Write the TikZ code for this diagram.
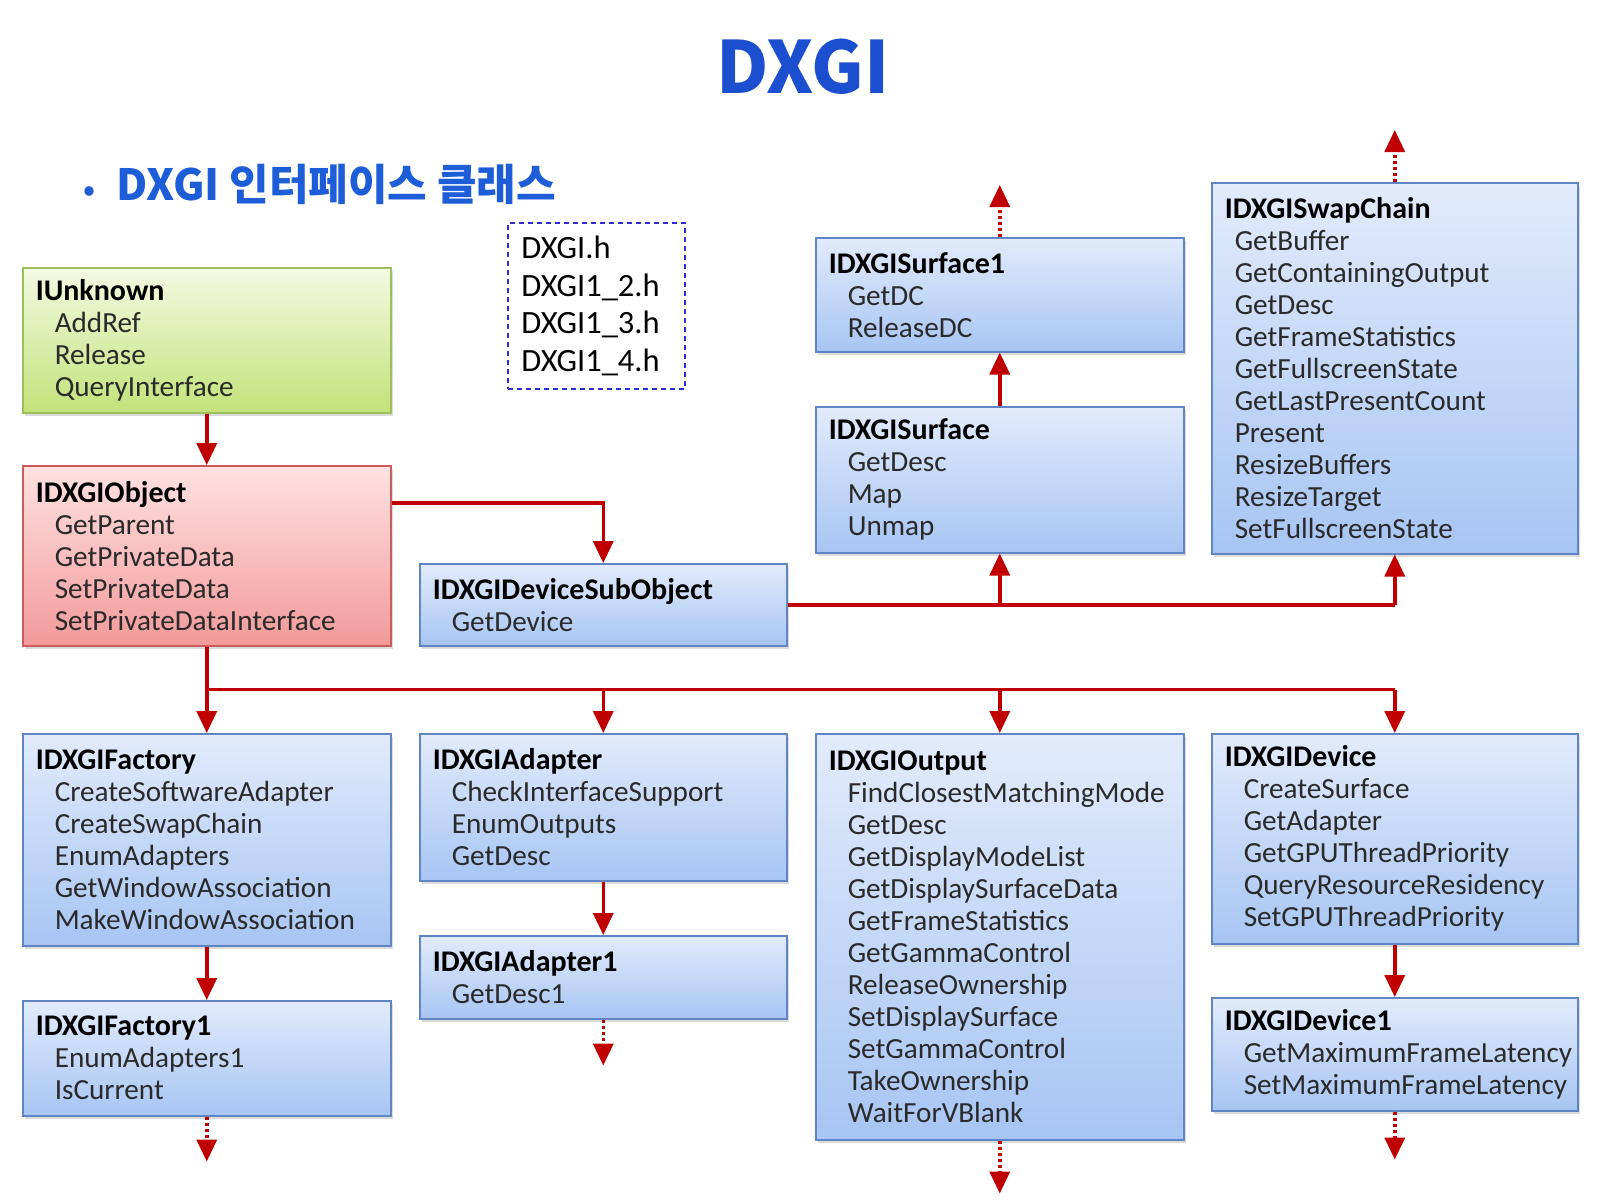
\documentclass[tikz,border=0pt]{standalone}
\usepackage{fontspec}
\setmainfont{Carlito}
\newfontfamily\krfont{Noto Sans CJK KR}
\usetikzlibrary{arrows.meta,shadows}
\definecolor{arrred}{HTML}{C00000}
\definecolor{bluetop}{HTML}{E2EBFB}
\definecolor{bluebot}{HTML}{A7C5F3}
\definecolor{bluedraw}{HTML}{5F85C2}
\definecolor{greentop}{HTML}{F3FAE2}
\definecolor{greenbot}{HTML}{C3E27A}
\definecolor{greendraw}{HTML}{9DBE5C}
\definecolor{redtop}{HTML}{FFE2E2}
\definecolor{redbot}{HTML}{F29A9A}
\definecolor{reddraw}{HTML}{CC5C5C}
\definecolor{titleblue}{HTML}{1C4ED0}
\definecolor{subblue}{HTML}{1E5DD8}
\definecolor{dashblue}{HTML}{2E2ECF}
\definecolor{bodytext}{HTML}{2A2A2A}
\newcommand\mth[1]{\hspace*{19pt}#1}
\newcommand\smth[1]{\hspace*{10pt}#1}
\tikzset{
  box/.style={rectangle, anchor=north west, align=left, line width=1.5pt,
    inner xsep=13pt, inner ysep=0pt, text=bodytext,
    font=\fontsize{29.2}{32}\selectfont,
    execute at begin node={\hyphenpenalty=10000\exhyphenpenalty=10000},
    drop shadow={shadow xshift=2pt, shadow yshift=-3pt, opacity=0.28}},
  bluebox/.style={box, draw=bluedraw, top color=bluetop, bottom color=bluebot},
  greenbox/.style={box, draw=greendraw, top color=greentop, bottom color=greenbot},
  redbox/.style={box, draw=reddraw, top color=redtop, bottom color=redbot},
  sz/.style n args={2}{minimum width=#1pt, minimum height=#2pt},
  conn/.style={draw=arrred, line width=3.5pt},
  arr/.style={conn, -{Triangle[width=20pt,length=22pt]}},
  darr/.style={arr, dash pattern=on 3pt off 3pt},
}
\newcommand\ttl[1]{{\fontsize{30}{32}\selectfont\bfseries\color{black}#1}}
\begin{document}
\begin{tikzpicture}[x=1pt,y=-1pt]
\path[use as bounding box, fill=white] (0,0) rectangle (1600,1200);

% title
\node[font=\krfont\fontsize{72}{80}\bfseries, text=titleblue] (title) at (803,67) {DXGI};
\node[font=\krfont\fontsize{43}{46}\bfseries, text=subblue, anchor=base west] (sub) at (80,200)
  {{\fontsize{30}{30}\selectfont •}\hspace{21pt}DXGI 인터페이스 클래스};

% header files
\node[draw=dashblue, line width=1.5pt, dash pattern=on 5pt off 4pt, fill=white,
  anchor=north west, minimum width=177pt, minimum height=166pt, text width=150pt,
  inner xsep=13pt, align=left, font=\fontsize{32.5}{37.7}\selectfont, text=black] (hdr) at (507,222)
  {DXGI.h\\DXGI1\_2.h\\DXGI1\_3.h\\DXGI1\_4.h};

% boxes
\node[greenbox, sz={368}{145}, text width=342pt] (unk) at (22,267)
  {\ttl{IUnknown}\\\mth{AddRef}\\\mth{Release}\\\mth{QueryInterface}};
\node[redbox, sz={368}{180}, text width=342pt] (obj) at (22,465)
  {\ttl{IDXGIObject}\\\mth{GetParent}\\\mth{GetPrivateData}\\\mth{SetPrivateData}\\\mth{SetPrivateDataInterface}};
\node[bluebox, sz={367}{82}, text width=341pt] (dso) at (419,563)
  {\ttl{IDXGIDeviceSubObject}\\\mth{GetDevice}};
\node[bluebox, sz={368}{114}, text width=342pt] (surf1) at (815,237)
  {\ttl{IDXGISurface1}\\\mth{GetDC}\\\mth{ReleaseDC}};
\node[bluebox, sz={368}{146}, text width=342pt] (surf) at (815,406)
  {\ttl{IDXGISurface}\\\mth{GetDesc}\\\mth{Map}\\\mth{Unmap}};
\node[bluebox, sz={366}{371}, text width=340pt] (swap) at (1211,182)
  {\ttl{IDXGISwapChain}\\\smth{GetBuffer}\\\smth{GetContainingOutput}\\\smth{GetDesc}\\\smth{GetFrameStatistics}\\\smth{GetFullscreenState}\\\smth{GetLastPresentCount}\\\smth{Present}\\\smth{ResizeBuffers}\\\smth{ResizeTarget}\\\smth{SetFullscreenState}};
\node[bluebox, sz={368}{212}, text width=342pt] (fac) at (22,733)
  {\ttl{IDXGIFactory}\\\mth{CreateSoftwareAdapter}\\\mth{CreateSwapChain}\\\mth{EnumAdapters}\\\mth{GetWindowAssociation}\\\mth{MakeWindowAssociation}};
\node[bluebox, sz={368}{115}, text width=342pt] (fac1) at (22,1000)
  {\ttl{IDXGIFactory1}\\\mth{EnumAdapters1}\\\mth{IsCurrent}};
\node[bluebox, sz={367}{147}, text width=341pt] (ada) at (419,733)
  {\ttl{IDXGIAdapter}\\\mth{CheckInterfaceSupport}\\\mth{EnumOutputs}\\\mth{GetDesc}};
\node[bluebox, sz={367}{83}, text width=341pt] (ada1) at (419,935)
  {\ttl{IDXGIAdapter1}\\\mth{GetDesc1}};
\node[bluebox, sz={368}{406}, text width=342pt] (out) at (815,733)
  {\ttl{IDXGIOutput}\\\mth{FindClosestMatchingMode}\\\mth{GetDesc}\\\mth{GetDisplayModeList}\\\mth{GetDisplaySurfaceData}\\\mth{GetFrameStatistics}\\\mth{GetGammaControl}\\\mth{ReleaseOwnership}\\\mth{SetDisplaySurface}\\\mth{SetGammaControl}\\\mth{TakeOwnership}\\\mth{WaitForVBlank}};
\node[bluebox, sz={366}{210}, text width=340pt] (dev) at (1211,733)
  {\ttl{IDXGIDevice}\\\mth{CreateSurface}\\\mth{GetAdapter}\\\mth{GetGPUThreadPriority}\\\mth{QueryResourceResidency}\\\mth{SetGPUThreadPriority}};
\node[bluebox, sz={366}{113}, text width=340pt] (dev1) at (1211,997)
  {\ttl{IDXGIDevice1}\\\mth{GetMaximumFrameLatency}\\\mth{SetMaximumFrameLatency}};

% connectors
\draw[arr] (unk) -- (obj);
\path (obj.north east) ++(0,38) coordinate (objr);
\draw[arr] (objr) -| (dso.north);

\path (obj.south) ++(0,43) coordinate (bus);
\draw[conn] (obj.south) -- (bus) -- (bus -| dev.north);
\draw[arr] (bus) -- (fac.north);
\draw[arr] (bus -| ada.north) -- (ada.north);
\draw[arr] (bus -| out.north) -- (out.north);
\draw[arr] (bus -| dev.north) -- (dev.north);

\draw[conn] (dso.east) -- (dso.east -| swap.south);
\draw[arr] (dso.east -| surf.south) -- (surf.south);
\draw[arr] (dso.east -| swap.south) -- (swap.south);
\draw[arr] (surf) -- (surf1);

\draw[arr] (fac) -- (fac1);
\draw[arr] (ada) -- (ada1);
\draw[arr] (dev) -- (dev1);

% dotted continuation arrows
\path (surf1.north) ++(0,-52) coordinate (s1up);
\path (swap.north) ++(0,-52) coordinate (swup);
\path (fac1.south) ++(0,45) coordinate (f1dn);
\path (ada1.south) ++(0,46) coordinate (a1dn);
\path (out.south) ++(0,53) coordinate (odn);
\path (dev1.south) ++(0,48) coordinate (d1dn);
\draw[darr] (surf1.north) -- (s1up);
\draw[darr] (swap.north) -- (swup);
\draw[darr] (fac1.south) -- (f1dn);
\draw[darr] (ada1.south) -- (a1dn);
\draw[darr] (out.south) -- (odn);
\draw[darr] (dev1.south) -- (d1dn);
\end{tikzpicture}
\end{document}
